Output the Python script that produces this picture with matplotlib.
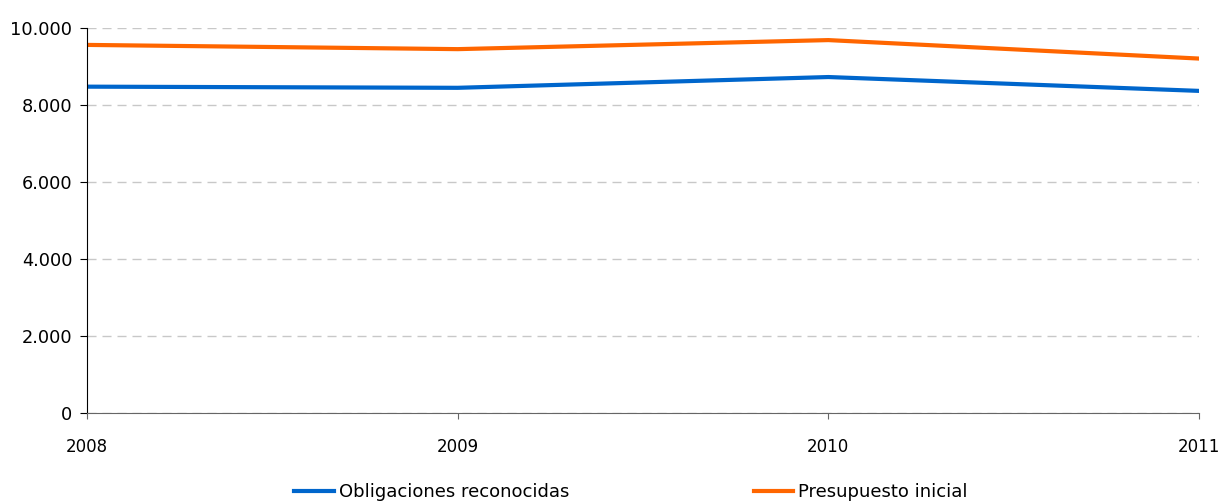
import matplotlib.pyplot as plt
from matplotlib.ticker import FuncFormatter

years = [2008, 2009, 2010, 2011]
obligaciones = [8480, 8450, 8730, 8370]
presupuesto = [9565, 9455, 9690, 9210]

fig = plt.figure(figsize=(12.21, 5.03), dpi=100)
ax = fig.add_axes([0.0713, 0.179, 0.9107, 0.765])

ax.plot(years, obligaciones, color='#0066CC', lw=3, label='Obligaciones reconocidas')
ax.plot(years, presupuesto, color='#FF6600', lw=3, label='Presupuesto inicial')

ax.set_xlim(2008, 2011)
ax.set_ylim(0, 10000)
ax.set_xticks(years)
ax.set_yticks(range(0, 10001, 2000))
ax.yaxis.set_major_formatter(FuncFormatter(lambda v, p: f'{int(v):,}'.replace(',', '.')))

ax.grid(axis='y', color='#c8c8c8', ls=(0, (6.5, 4.3)), lw=1)
ax.set_axisbelow(True)
for s in ['top', 'right']:
    ax.spines[s].set_visible(False)
ax.spines['left'].set_color('black')
ax.spines['bottom'].set_color('#666666')

ax.tick_params(axis='x', length=4.5, pad=13.5, labelsize=12, color='#666666')
ax.tick_params(axis='y', length=5, pad=5.5, labelsize=12.8)

fig.legend(loc='center', bbox_to_anchor=(0.5168, 0.022), ncol=2, frameon=False,
           fontsize=13, handlelength=2.2, handletextpad=0.28, columnspacing=10.2)

plt.savefig('out.png')
